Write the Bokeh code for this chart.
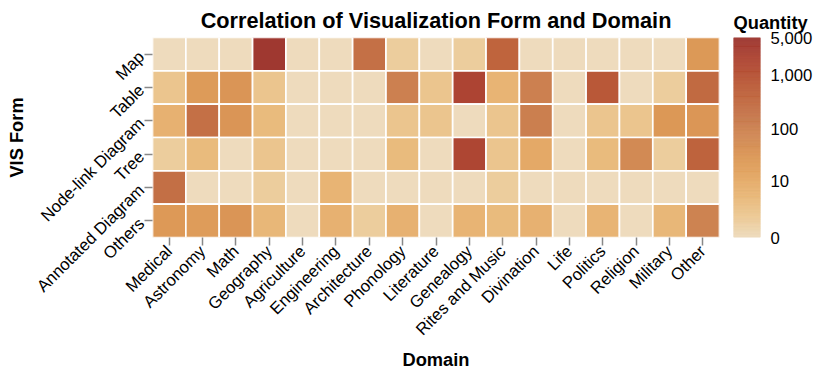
import math
from bokeh.plotting import figure
from bokeh.layouts import row
from bokeh.models import (ColumnDataSource, FactorRange, Range1d, FixedTicker,
                          LinearAxis)
from bokeh.embed import file_html
from bokeh.resources import INLINE

# ---------------- data ----------------
domains = ["Medical", "Astronomy", "Math", "Geography", "Agriculture",
           "Engineering", "Architecture", "Phonology", "Literature",
           "Genealogy", "Rites and Music", "Divination", "Life", "Politics",
           "Religion", "Military", "Other"]
forms = ["Map", "Table", "Node-link Diagram", "Tree", "Annotated Diagram", "Others"]

map_vals       = [0, 0, 0, 4500, 0, 0, 250, 1, 0, 1, 450, 0, 0, 0, 0, 0, 28]
table_vals     = [2, 25, 35, 2, 0, 0, 0, 110, 2, 2100, 6, 110, 0, 780, 0, 1, 330]
nodelink_vals  = [7, 250, 35, 4, 0, 0, 0, 2, 2, 0, 2, 115, 0, 2, 2, 29, 32]
tree_vals      = [1, 4, 0, 2, 0, 0, 0, 4, 0, 1900, 2, 11, 0, 4, 65, 1, 460]
annotated_vals = [260, 0, 0, 1, 0, 6, 0, 0, 0, 0, 1, 0, 0, 0, 0, 0, 0]
others_vals    = [27, 23, 35, 5, 0, 7, 1, 7, 0, 6, 4, 7, 0, 6, 0, 5, 95]
rows = [map_vals, table_vals, nodelink_vals, tree_vals, annotated_vals, others_vals]

legend_ticks = [0, 10, 100, 1000, 5000]
legend_labels = ["0", "10", "100", "1,000", "5,000"]
domain_max = 5000

# ---------------- colour scale (Vega "browns", symlog) ----------------
browns = ["#eedbbd", "#ecca96", "#e9b97a", "#e4a865", "#dc9856", "#d18954",
          "#c7784c", "#c0673f", "#b85536", "#ad4433", "#9d3630"]


def hex2rgb(h):
    h = h.lstrip("#")
    return [int(h[i:i + 2], 16) for i in (0, 2, 4)]


def interp(t):
    t = min(max(t, 0.0), 1.0)
    pos = t * (len(browns) - 1)
    i = min(int(math.floor(pos)), len(browns) - 2)
    f = pos - i
    a, b = hex2rgb(browns[i]), hex2rgb(browns[i + 1])
    c = [round(a[k] + (b[k] - a[k]) * f) for k in range(3)]
    return "#%02x%02x%02x" % tuple(c)


smax = math.log1p(domain_max)

xs, ys, vs, cs = [], [], [], []
for form, vals in zip(forms, rows):
    for d, v in zip(domains, vals):
        xs.append(d)
        ys.append(form)
        vs.append(v)
        cs.append(interp(math.log1p(v) / smax))

src = ColumnDataSource(dict(domain=xs, form=ys, qty=vs, color=cs))

FONT = "Liberation Sans"
LABEL_SIZE = "16.7px"
TITLE_SIZE = "18.3px"

# ---------------- heatmap ----------------
p = figure(x_range=FactorRange(*domains),
           y_range=FactorRange(*list(reversed(forms))),
           frame_width=567, frame_height=200,
           min_border_left=152, min_border_right=6,
           min_border_top=36, min_border_bottom=140,
           output_backend="svg", toolbar_location=None,
           title="Correlation of Visualization Form and Domain")

p.rect(x="domain", y="form", width=1, height=1, source=src,
       fill_color="color", line_color="white", line_width=1.7)

p.title.align = "center"
p.title.text_font = FONT
p.title.text_font_size = "21.7px"
p.title.text_font_style = "bold"
p.title.text_color = "#000000"

p.outline_line_color = None
p.xgrid.grid_line_color = None
p.ygrid.grid_line_color = None

p.xaxis.axis_label = "Domain"
p.yaxis.axis_label = "VIS Form"

for ax in (p.xaxis[0], p.yaxis[0]):
    ax.axis_line_color = None
    ax.major_tick_line_color = "#888888"
    ax.major_tick_line_width = 1.5
    ax.major_tick_out = 8
    ax.major_tick_in = 0
    ax.minor_tick_line_color = None
    ax.major_label_text_font = FONT
    ax.major_label_text_font_size = LABEL_SIZE
    ax.major_label_text_color = "#000000"
    ax.major_label_standoff = 3
    ax.major_label_orientation = math.pi / 4
    ax.axis_label_text_font = FONT
    ax.axis_label_text_font_size = TITLE_SIZE
    ax.axis_label_text_font_style = "bold"
    ax.axis_label_text_color = "#000000"

p.xaxis.axis_label_standoff = 0
p.yaxis.axis_label_standoff = -4

# ---------------- legend (gradient) ----------------
n = 256
edges = [smax * i / n for i in range(n + 1)]
grad = ColumnDataSource(dict(bottom=edges[:-1], top=edges[1:],
                             color=[interp((i + 0.5) / n) for i in range(n)]))

q = figure(x_range=Range1d(0, 1), y_range=Range1d(0, smax),
           frame_width=27, frame_height=200,
           min_border_left=8, min_border_right=70,
           min_border_top=34, min_border_bottom=142,
           x_axis_location=None, y_axis_location=None,
           output_backend="svg", toolbar_location=None, title="Quantity")
q.quad(left=0, right=1, bottom="bottom", top="top", source=grad,
       fill_color="color", line_color="color", line_width=0.5)
q.outline_line_color = None
q.xgrid.grid_line_color = None
q.ygrid.grid_line_color = None
q.title.align = "left"
q.title.text_font = FONT
q.title.text_font_size = TITLE_SIZE
q.title.text_font_style = "bold"
q.title.text_color = "#000000"
q.title.standoff = 10

tick_pos = [math.log1p(v) for v in legend_ticks]
lax = LinearAxis(ticker=FixedTicker(ticks=tick_pos),
                 major_label_overrides={tp: lab for tp, lab in zip(tick_pos, legend_labels)})
lax.axis_line_color = None
lax.major_tick_line_color = None
lax.minor_tick_line_color = None
lax.major_label_standoff = 4
lax.major_label_text_font = FONT
lax.major_label_text_font_size = LABEL_SIZE
lax.major_label_text_color = "#000000"
q.add_layout(lax, "right")

layout = row(p, q)
open("out.html", "w").write(file_html(layout, INLINE))
